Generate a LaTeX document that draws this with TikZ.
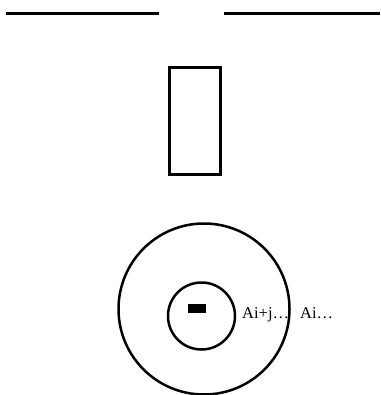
\documentclass[tikz,border=0pt]{standalone}
\usepackage{fontspec}
\setmainfont{Liberation Serif}
\usepackage{tikz}
\usetikzlibrary{positioning}

\begin{document}
\begin{tikzpicture}[
    x=1pt, y=-1pt,
    wall/.style={line width=3pt, black},
    slot/.style={rectangle, draw=black, line width=3pt, minimum width=51pt, minimum height=106pt, inner sep=0pt},
    ring/.style={circle, draw=black, line width=2.5pt, inner sep=0pt},
    core/.style={rectangle, fill=black, minimum width=18pt, minimum height=9pt, inner sep=0pt},
    lbl/.style={font=\fontsize{16.5}{19}\selectfont, inner sep=0pt, anchor=base west}
]
\useasboundingbox (0,0) rectangle (380,395);

% top edge with the gap
\coordinate (wl-a) at (6,14);
\coordinate (wl-b) at (159,14);
\coordinate (wr-a) at (224,14);
\coordinate (wr-b) at (380,14);
\draw[wall] (wl-a) -- (wl-b);
\draw[wall] (wr-a) -- (wr-b);

\node[slot] (gate) at (194.5,121) {};

% rings
\node[ring, minimum size=171pt] (outer-ring) at (204,309) {};
\node[ring, minimum size=67pt] (inner-ring) at (201.5,316) {};
\node[core] (centre) at (197,308.5) {};

\node[lbl] (lbl-ij) at (242,318) {Ai+j\ldots};
\node[lbl] (lbl-i) at (300,318) {Ai\ldots};

\end{tikzpicture}
\end{document}
